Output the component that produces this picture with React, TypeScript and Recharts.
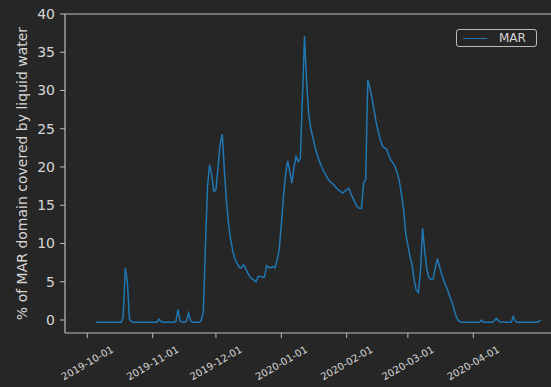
import React from "react";
import { LineChart, Line, XAxis, YAxis, ReferenceLine, Legend } from "recharts";

// Daily series, first value on 2019-10-05
const START_DATE = "2019-10-05";
const marValues: number[] = [
  -0.3, -0.3, -0.3, -0.3, -0.3, -0.3, -0.3, -0.3, -0.3, -0.3, -0.3, -0.3, -0.3, // Oct 5-17
  0.3, 6.8, 5.0, 0.1, -0.2, // Oct 18-22
  -0.3, -0.3, -0.3, -0.3, -0.3, -0.3, -0.3, -0.3, -0.3, -0.3, -0.3, -0.3, // Oct 23 - Nov 3
  0.1, -0.2, // Nov 4-5
  -0.3, -0.3, -0.3, -0.3, -0.3, -0.3, -0.2, // Nov 6-12
  1.4, -0.1, -0.3, -0.3, -0.2, 0.9, -0.1, // Nov 13-19
  -0.3, -0.3, -0.3, -0.3, -0.1, 1.1, 9.5, 17.5, 20.3, 19.0, // Nov 20-29
  16.8, 17.0, 20.0, 23.0, 24.3, 19.5, 15.5, 12.5, 10.5, 9.0, // Nov 30 - Dec 9
  8.0, 7.4, 6.9, 6.8, 7.2, 6.8, 6.2, 5.7, 5.4, 5.2, // Dec 10-19
  5.0, 5.7, 5.7, 5.6, 5.6, 7.1, 6.9, 6.8, 7.0, 6.8, // Dec 20-29
  7.8, 9.2, 12.5, 16.0, 19.0, 20.8, 19.5, 17.9, 20.0, 21.4, // Dec 30 - Jan 8
  20.7, 21.1, 29.0, 37.1, 31.0, 26.8, 25.0, 23.8, 22.6, 21.6, // Jan 9-18
  20.8, 20.1, 19.5, 19.0, 18.5, 18.1, 17.9, 17.6, 17.3, 17.0, // Jan 19-28
  16.8, 16.6, 16.8, 17.0, 17.2, 16.5, 15.9, 15.3, 14.8, 14.6, // Jan 29 - Feb 7
  14.6, 17.9, 18.3, 31.4, 30.3, 29.0, 27.4, 25.8, 24.6, 23.5, // Feb 8-17
  22.7, 22.5, 22.3, 21.5, 20.9, 20.5, 20.0, 19.2, 18.1, 16.4, // Feb 18-27
  14.3, 11.3, 9.8, 8.3, 7.2, 5.2, 3.9, 3.6, 6.5, 12.0, // Feb 28 - Mar 8
  9.0, 6.6, 5.5, 5.3, 5.4, 6.8, 8.0, 7.0, 6.0, 5.2, // Mar 9-18
  4.5, 3.8, 3.0, 2.3, 1.3, 0.4, -0.1, -0.25, -0.3, -0.3, // Mar 19-28
  -0.3, -0.3, -0.3, -0.3, -0.3, -0.3, -0.3, 0.0, -0.3, -0.3, // Mar 29 - Apr 7
  -0.3, -0.3, -0.3, -0.1, 0.2, -0.15, -0.25, -0.25, -0.3, -0.3, // Apr 8-17
  -0.3, -0.3, 0.45, -0.2, -0.3, -0.3, -0.3, -0.3, -0.3, -0.3, // Apr 18-27
  -0.3, -0.3, -0.3, -0.3, -0.2, 0.0, // Apr 28 - May 3
];

const xTickLabels = [
  "2019-10-01",
  "2019-11-01",
  "2019-12-01",
  "2020-01-01",
  "2020-02-01",
  "2020-03-01",
  "2020-04-01",
];
const yTicks = [0, 5, 10, 15, 20, 25, 30, 35, 40];
const seriesName = "MAR";
const yLabel = "% of MAR domain covered by liquid water";

const DAY = 86400000;
const startMs = Date.parse(START_DATE + "T00:00:00Z");
const data = marValues.map((v, i) => ({ t: startMs + i * DAY, MAR: v }));
const xTicks = xTickLabels.map((s) => Date.parse(s + "T00:00:00Z"));
const originMs = Date.parse("2019-10-01T00:00:00Z");
const xDomain = [originMs - 10.57 * DAY, originMs + 219.87 * DAY];

const BG = "#262626";
const SPINE = "#bcbcbc";
const TEXT = "#d6d6d6";
const LINE = "#1f77b4";
const FONT = "'DejaVu Sans', sans-serif";

const fmt = (ms: number) => new Date(ms).toISOString().slice(0, 10);

const XTick = (props: any) => {
  const { x, y, payload } = props;
  return (
    <g transform={`translate(${x},${y + 25}) rotate(-30)`}>
      <text
        textAnchor="middle"
        dy="0.35em"
        fontSize={10}
        fill={TEXT}
        fontFamily={FONT}
      >
        {fmt(payload.value)}
      </text>
    </g>
  );
};

const YLabel = () => (
  <text
    x={26.5}
    y={173.5}
    transform="rotate(-90 26.5 173.5)"
    textAnchor="middle"
    fontSize={14}
    fill={TEXT}
    fontFamily={FONT}
  >
    {yLabel}
  </text>
);

const LegendBox = () => (
  <div
    style={{
      width: 79,
      height: 16,
      border: `1px solid ${SPINE}`,
      borderRadius: 3,
      background: BG,
      position: "relative",
      fontFamily: FONT,
    }}
  >
    <div
      style={{
        position: "absolute",
        left: 6,
        top: 8,
        width: 24,
        height: 0,
        borderTop: `1.5px solid ${LINE}`,
      }}
    />
    <span
      style={{
        position: "absolute",
        left: 42,
        top: 0,
        fontSize: 12,
        lineHeight: "16px",
        color: TEXT,
      }}
    >
      {seriesName}
    </span>
  </div>
);

export default function App() {
  return (
    <div
      style={{
        position: "absolute",
        left: 0,
        top: 0,
        width: 551,
        height: 387,
        background: BG,
        overflow: "hidden",
      }}
    >
      <LineChart
        width={551}
        height={387}
        data={data}
        margin={{ top: 14, right: 0, bottom: 0, left: 0 }}
      >
        <XAxis
          dataKey="t"
          type="number"
          scale="linear"
          domain={xDomain}
          allowDataOverflow
          ticks={xTicks}
          interval={0}
          height={54}
          tickSize={5}
          tickMargin={0}
          tick={<XTick />}
          axisLine={{ stroke: SPINE, strokeWidth: 1.2 }}
          tickLine={{ stroke: SPINE, strokeWidth: 1 }}
        />
        <YAxis
          type="number"
          domain={[-1.7, 40]}
          allowDataOverflow
          ticks={yTicks}
          interval={0}
          width={65}
          tickSize={5}
          tickMargin={5}
          tick={{ fill: TEXT, fontSize: 14, fontFamily: FONT }}
          axisLine={{ stroke: SPINE, strokeWidth: 1.2 }}
          tickLine={{ stroke: SPINE, strokeWidth: 1 }}
          label={{ content: () => <YLabel /> }}
        />
        <ReferenceLine y={40} stroke={SPINE} strokeWidth={1.2} ifOverflow="visible" />
        <Legend
          layout="horizontal"
          verticalAlign="middle"
          align="center"
          content={() => <LegendBox />}
          wrapperStyle={{ position: "absolute", left: 456, top: 29, width: "auto", height: "auto" }}
        />
        <Line
          type="linear"
          dataKey="MAR"
          name={seriesName}
          stroke={LINE}
          strokeWidth={1.5}
          dot={false}
          activeDot={false}
          isAnimationActive={false}
        />
      </LineChart>
    </div>
  );
}
